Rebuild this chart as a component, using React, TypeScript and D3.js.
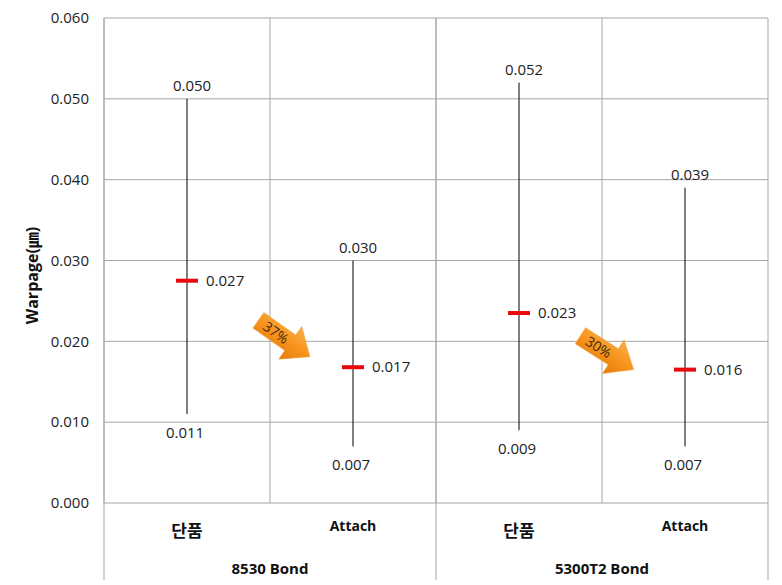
import React from "react";
import * as d3 from "d3";

const groups = ["8530 Bond", "5300T2 Bond"];
const categories = ["단품", "Attach", "단품", "Attach"];
const highValues = [0.05, 0.03, 0.052, 0.039];
const lowValues = [0.011, 0.007, 0.009, 0.007];
const meanValues = [0.0275, 0.0168, 0.0235, 0.0165];
const highLabels = ["0.050", "0.030", "0.052", "0.039"];
const lowLabels = ["0.011", "0.007", "0.009", "0.007"];
const meanLabels = ["0.027", "0.017", "0.023", "0.016"];
const yTicks = [0, 0.01, 0.02, 0.03, 0.04, 0.05, 0.06];
const reductionLabels = ["37%", "30%"];
// arrow anchors (in data units): tail and head values
const arrowTailY = [0.0226, 0.0207];
const arrowHeadY = [0.0181, 0.0165];

const W = 782;
const H = 585;
const left = 104;
const right = 768;
const top = 18;
const bottom = 503;
const frameBottom = 580;
const grid = "#a6a6a6";
const font = "'Open Sans', 'Noto Sans CJK KR', sans-serif";
const krFont = "'Noto Sans CJK KR', 'Noto Sans', sans-serif";

export default function App() {
  const y = d3.scaleLinear().domain([0, 0.06]).range([bottom, top]);
  const x = d3
    .scaleBand<number>()
    .domain(categories.map((_, i) => i))
    .range([left, right])
    .padding(0);
  const bw = x.bandwidth();
  const cx = (i: number) => (x(i) as number) + bw / 2;
  const fmt = d3.format(".3f");

  const arrowPath = (len: number) => {
    const bodyH = 9.5;
    const headH = 20;
    const headL = 24;
    const b = len - headL;
    return `M0,${-bodyH} L${b},${-bodyH} L${b},${-headH} L${len},0 L${b},${headH} L${b},${bodyH} L0,${bodyH} Z`;
  };

  const tailX = [0.93, 0.87];
  const headX = [0.24, 0.19];

  return (
    <svg width={W} height={H} style={{ display: "block", position: "absolute", left: 0, top: 0 }}>
      <defs>
        <linearGradient id="org" x1="0" y1="0" x2="0" y2="1">
          <stop offset="0" stopColor="#fbb04a" />
          <stop offset="0.5" stopColor="#f7941d" />
          <stop offset="1" stopColor="#e57b0a" />
        </linearGradient>
      </defs>
      <rect x={0} y={0} width={W} height={H} fill="#fff" />
      {yTicks.map((t) => (
        <line key={t} x1={left} x2={right} y1={y(t)} y2={y(t)} stroke={grid} strokeWidth={1} />
      ))}
      {categories.map((_, i) => (
        <line key={i} x1={x(i)} x2={x(i)} y1={top} y2={bottom} stroke={grid} strokeWidth={1} />
      ))}
      {[0, 2, 4].map((i) => {
        const xx = i < 4 ? (x(i) as number) : right;
        return <line key={i} x1={xx} x2={xx} y1={top} y2={frameBottom} stroke={grid} strokeWidth={1} />;
      })}
      {yTicks.map((t) => (
        <text key={t} x={89} y={y(t)} dy="0.35em" textAnchor="end" fontSize={15} fontFamily={font} fill="#222">
          {fmt(t)}
        </text>
      ))}
      <text
        transform={`translate(38,${(top + bottom) / 2 + 15}) rotate(-90)`}
        textAnchor="middle"
        fontSize={16}
        fontWeight="bold"
        fontFamily={font}
        fill="#111"
      >
        Warpage(㎛)
      </text>
      {categories.map((_, i) => (
        <g key={i}>
          <line x1={cx(i)} x2={cx(i)} y1={y(highValues[i])} y2={y(lowValues[i])} stroke="#000" strokeWidth={1} />
          <line
            x1={cx(i) - 11}
            x2={cx(i) + 11}
            y1={y(meanValues[i])}
            y2={y(meanValues[i])}
            stroke="#e8090e"
            strokeWidth={4}
          />
          <text x={cx(i) + 5} y={y(highValues[i]) - 8} textAnchor="middle" fontSize={15} fontFamily={font} fill="#222">
            {highLabels[i]}
          </text>
          <text x={cx(i) - 2} y={y(lowValues[i]) + 24} textAnchor="middle" fontSize={15} fontFamily={font} fill="#222">
            {lowLabels[i]}
          </text>
          <text x={cx(i) + 19} y={y(meanValues[i])} dy="0.35em" textAnchor="start" fontSize={15} fontFamily={font} fill="#222">
            {meanLabels[i]}
          </text>
        </g>
      ))}
      {reductionLabels.map((lab, g) => {
        const x0 = (x(g * 2) as number) + bw * tailX[g];
        const y0 = y(arrowTailY[g]);
        const x1 = (x(g * 2 + 1) as number) + bw * headX[g];
        const y1 = y(arrowHeadY[g]);
        const ang = (Math.atan2(y1 - y0, x1 - x0) * 180) / Math.PI;
        const len = Math.hypot(x1 - x0, y1 - y0);
        return (
          <g key={g} transform={`translate(${x0},${y0}) rotate(${ang})`}>
            <path d={arrowPath(len)} fill="url(#org)" stroke="#f0a040" strokeWidth={0.5} />
            <text x={len * 0.34} y={0} dy="0.35em" textAnchor="middle" fontSize={14} fontFamily={font} fill="#3a2a10">
              {lab}
            </text>
          </g>
        );
      })}
      {categories.map((c, i) => (
        <text
          key={i}
          x={cx(i)}
          y={c === "단품" ? 537 : 531}
          textAnchor="middle"
          fontSize={c === "단품" ? 17 : 14}
          fontWeight="bold"
          fontFamily={c === "단품" ? krFont : font}
          fill="#111"
        >
          {c}
        </text>
      ))}
      {groups.map((g, i) => (
        <text
          key={g}
          x={x(i * 2 + 1)}
          y={574}
          textAnchor="middle"
          fontSize={15}
          fontWeight="bold"
          fontFamily={font}
          fill="#111"
        >
          {g}
        </text>
      ))}
    </svg>
  );
}
